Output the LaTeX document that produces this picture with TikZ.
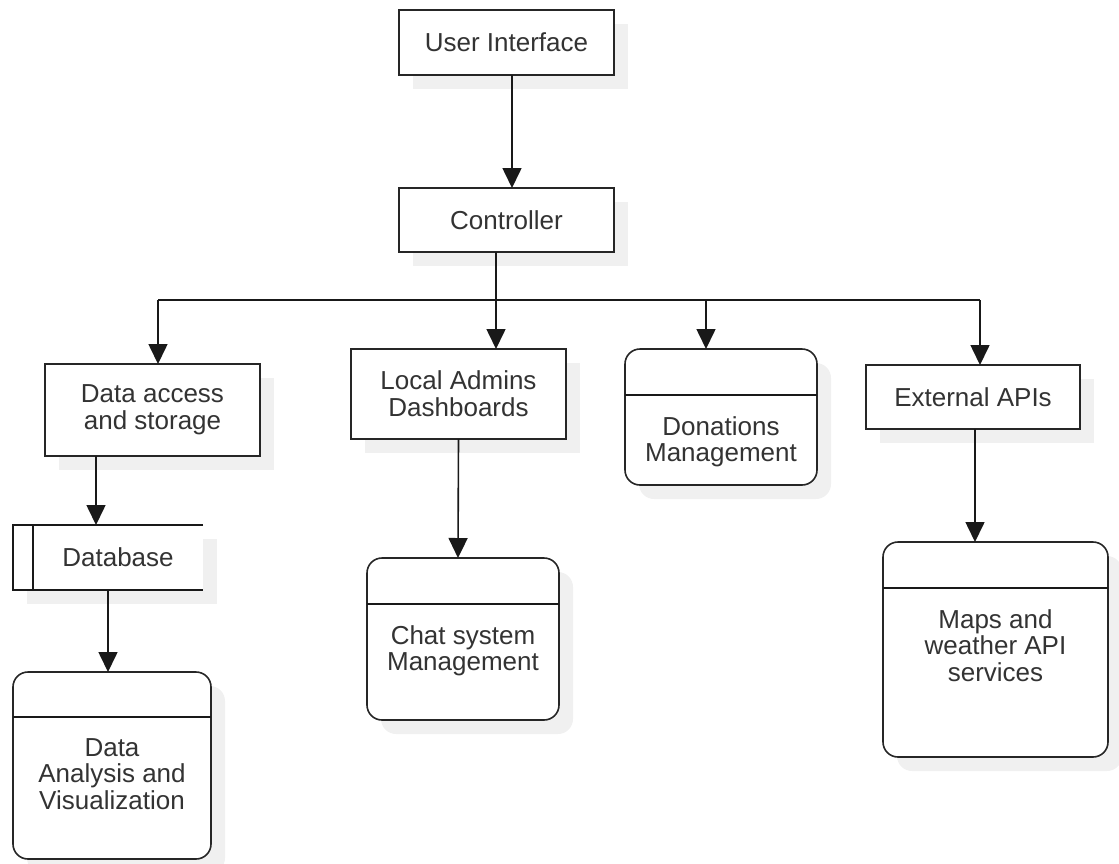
\documentclass[tikz,border=0pt]{standalone}
\usepackage{fontspec}
\setmainfont{Liberation Sans}
\usetikzlibrary{positioning}
\usetikzlibrary{calc}
\usetikzlibrary{arrows.meta}
\usetikzlibrary{shadows}

\tikzset{
  box/.style={draw=black!85, line width=1.6pt, fill=white, outer sep=0pt, inner sep=0pt,
    align=center, text=black!80, font=\fontsize{26}{27}\selectfont,
    general shadow={fill=black!6, shadow xshift=14pt, shadow yshift=-14pt}},
  roundbox/.style={box, rounded corners=15pt},
  boxtext/.style={inner sep=0pt, align=center, text=black!80, font=\fontsize{26}{26.5}\selectfont},
  line/.style={line width=1.6pt, draw=black!90},
  arr/.style={line, -{Triangle[length=20pt,width=19pt]}},
}

\begin{document}
\begin{tikzpicture}[x=1pt,y=-1pt]

\useasboundingbox (0,0) rectangle (1119,863);

% top row
\node[box, minimum width=215pt, minimum height=65pt] (ui) at (506.5,42.5) {User Interface};
\node[box, minimum width=215pt, minimum height=64pt] (controller) at (506.5,220) {Controller};

% second row
\node[box, minimum width=215pt, minimum height=92pt] (access) at (152.5,410) {Data access\\and storage};
\node[box, minimum width=215pt, minimum height=90pt] (admins) at (458.5,394) {Local Admins\\Dashboards};
\node[roundbox, minimum width=192pt, minimum height=136pt] (donations) at (721,417) {};
\node[box, minimum width=214pt, minimum height=64pt] (apis) at (973,397) {External APIs};

% third row
\node[box, draw=none, minimum width=190pt, minimum height=65pt] (database) at (108,557.5) {\hspace*{20pt}Database};
\node[roundbox, minimum width=192pt, minimum height=162pt] (chat) at (463,639) {};
\node[roundbox, minimum width=225pt, minimum height=215pt] (maps) at (995.5,649.5) {};
\node[roundbox, minimum width=198pt, minimum height=187pt] (analysis) at (112,765.5) {};

% data store lines
\draw[line] (database.north east) -- (database.north west) -- (database.south west) -- (database.south east);
\draw[line] ($(database.north west)+(20,0)$) -- ($(database.south west)+(20,0)$);

% compartments
\draw[line] ($(donations.north west)+(0,46)$) -- ($(donations.north east)+(0,46)$);
\draw[line] ($(chat.north west)+(0,46)$) -- ($(chat.north east)+(0,46)$);
\draw[line] ($(maps.north west)+(0,46)$) -- ($(maps.north east)+(0,46)$);
\draw[line] ($(analysis.north west)+(0,45)$) -- ($(analysis.north east)+(0,45)$);

\node[boxtext, anchor=north] (donationstext) at ($(donations.north)+(0,67)$) {Donations\\Management};
\node[boxtext, anchor=north] (chattext) at ($(chat.north)+(0,67)$) {Chat system\\Management};
\node[boxtext, anchor=north] (mapstext) at ($(maps.north)+(0,67)$) {Maps and\\weather API\\services};
\node[boxtext, anchor=north] (analysistext) at ($(analysis.north)+(0,66)$) {Data\\Analysis and\\Visualization};

% connectors
\coordinate (split) at (496,300);
\coordinate (hl) at (158,300);
\coordinate (hd) at (706,300);
\coordinate (hr) at (980,300);

\draw[arr] ($(ui.south)+(5.5,0)$) -- ($(controller.north)+(5.5,0)$);
\draw[line, line width=2.6pt] ($(controller.south)+(-10.5,0)$) -- (split);
\draw[line] (hl) -- (hr);
\draw[arr] (hl) -- (hl |- access.north);
\draw[arr] (split) -- (split |- admins.north);
\draw[arr] (hd) -- (hd |- donations.north);
\draw[arr] (hr) -- (hr |- apis.north);

\draw[arr] ($(access.south)+(-56.5,0)$) -- ($(database.north)+(-12,0)$);
\draw[arr] (database.south) -- ($(analysis.north)+(-4,0)$);
\draw[arr] (admins.south) -- ($(chat.north)+(-5,0)$);
\draw[arr] ($(apis.south)+(2,0)$) -- ($(maps.north)+(-20.5,0)$);

\end{tikzpicture}
\end{document}
